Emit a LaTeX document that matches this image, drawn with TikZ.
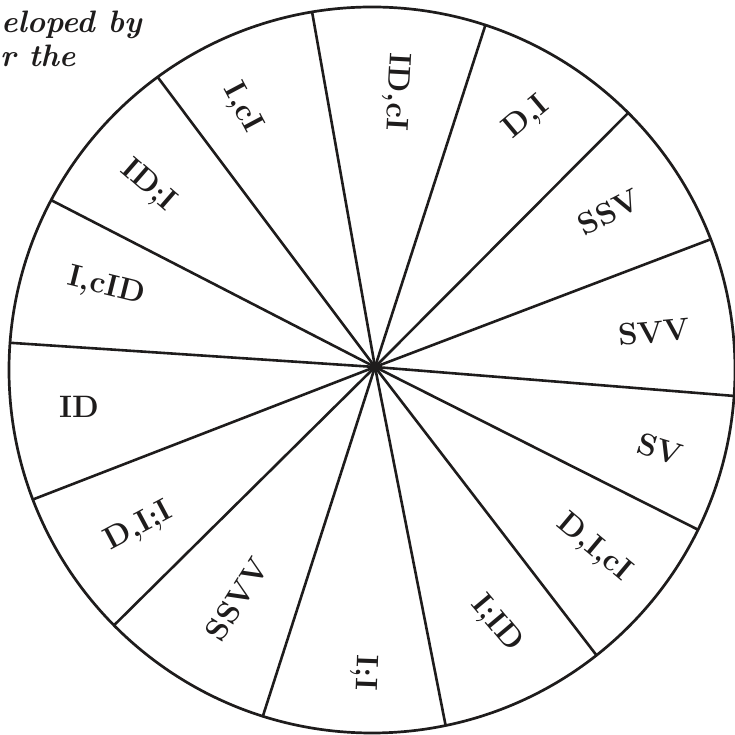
\documentclass[tikz,border=0pt]{standalone}
\usepackage{fontspec}
\usepackage{tikz}
\usetikzlibrary{calc}
\definecolor{inkBlk}{RGB}{30,28,28}

\begin{document}
\begin{tikzpicture}[x=1pt, y=1pt, RIM/.style={line width=2.7pt, inkBlk}, SPK/.style={line width=2.6pt, inkBlk},
    LBL/.style={font=\fontsize{31}{37}\selectfont\bfseries, inner sep=0pt, text=inkBlk},
    HEAD/.style={font=\fontsize{31}{37}\selectfont\bfseries\itshape, inner sep=0pt, anchor=base west, text=inkBlk}]
    \useasboundingbox (0,0) rectangle (734,735);
    % wheel
    \coordinate (c) at (372,365); \coordinate (hub) at (375,368);
    \draw[RIM] (c) circle (363pt);
    \coordinate (r1) at ($(c)+(99.5:363pt)$); \coordinate (r2) at ($(c)+(71.8:363pt)$);
    \coordinate (r3) at ($(c)+(45.1:363pt)$); \coordinate (r4) at ($(c)+(21.1:363pt)$);
    \coordinate (r5) at ($(c)+(-4.1:363pt)$); \coordinate (r6) at ($(c)+(-26.1:363pt)$);
    \coordinate (r7) at ($(c)+(-51.8:363pt)$); \coordinate (r8) at ($(c)+(-78.3:363pt)$);
    \coordinate (r9) at ($(c)+(-107.5:363pt)$); \coordinate (r10) at ($(c)+(-135.3:363pt)$);
    \coordinate (r11) at ($(c)+(-159.1:363pt)$); \coordinate (r12) at ($(c)+(175.7:363pt)$);
    \coordinate (r13) at ($(c)+(152.1:363pt)$); \coordinate (r14) at ($(c)+(126.2:363pt)$);
    \draw[SPK] (hub) -- (r1); \draw[SPK] (hub) -- (r2); \draw[SPK] (hub) -- (r3); \draw[SPK] (hub) -- (r4);
    \draw[SPK] (hub) -- (r5); \draw[SPK] (hub) -- (r6); \draw[SPK] (hub) -- (r7); \draw[SPK] (hub) -- (r8);
    \draw[SPK] (hub) -- (r9); \draw[SPK] (hub) -- (r10); \draw[SPK] (hub) -- (r11); \draw[SPK] (hub) -- (r12);
    \draw[SPK] (hub) -- (r13); \draw[SPK] (hub) -- (r14);
    % sector labels
    \node[LBL, rotate=-93] (idci) at (396,643) {ID,cI};
    \node[LBL, rotate=40] (di) at (527,617) {D,I};
    \node[LBL, rotate=27] (ssv) at (609,523) {SSV};
    \node[LBL, rotate=5] (svv) at (654,403) {SVV};
    \node[LBL, rotate=-17] (sv) at (660,286) {SV};
    \node[LBL, rotate=-40] (dici) at (594,187) {D,I,cI};
    \node[LBL, rotate=-50] (iid) at (496,111) {I;ID};
    \node[LBL, rotate=-92] (ii) at (364,62) {I;I};
    \node[LBL, rotate=58] (ssvv) at (237,136) {SSVV};
    \node[LBL, rotate=28] (dii) at (139,208) {D,I;I};
    \node[LBL] (id) at (79,328) {ID};
    \node[LBL, rotate=-14] (icid) at (106,448) {I,cID};
    \node[LBL, rotate=-41] (idi) at (148,549) {ID;I};
    \node[LBL, rotate=-62] (ici) at (242,627) {I,cI};
    % cut-off heading
    \node[HEAD] (hd1) at (1,702) {eloped by};
    \node[HEAD] (hd2) at (0,668) {r the};
\end{tikzpicture}
\end{document}
